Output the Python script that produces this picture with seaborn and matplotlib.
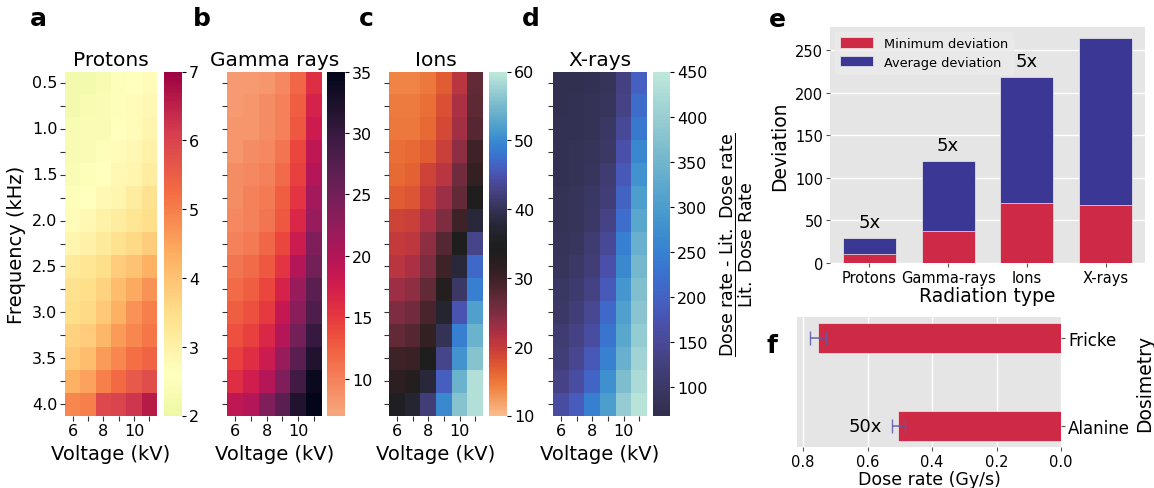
import numpy as np
import pandas as pd
import matplotlib
matplotlib.use("Agg")
import matplotlib.pyplot as plt
import seaborn as sns


# ==========================================
# Data
# ==========================================

frequencies = [0.5, 0.75, 1.0, 1.25, 1.5, 1.75, 2.0, 2.25,
               2.5, 2.75, 3.0, 3.25, 3.5, 3.75, 4.0]
voltages = [6, 7, 8, 9, 10, 11]

protons = [
    [2.2, 2.2, 2.3, 2.5, 2.6, 2.7],
    [2.2, 2.3, 2.4, 2.5, 2.7, 2.8],
    [2.3, 2.4, 2.4, 2.6, 2.7, 2.9],
    [2.3, 2.4, 2.5, 2.7, 2.8, 3.0],
    [2.4, 2.5, 2.6, 2.8, 2.9, 3.1],
    [2.5, 2.6, 2.8, 2.9, 3.1, 3.4],
    [2.7, 2.8, 3.0, 3.1, 3.3, 3.5],
    [2.9, 3.0, 3.2, 3.4, 3.6, 3.8],
    [3.2, 3.3, 3.5, 3.8, 4.0, 4.3],
    [3.4, 3.5, 3.7, 4.1, 4.4, 4.7],
    [3.5, 3.6, 3.9, 4.3, 4.7, 5.0],
    [3.7, 3.8, 4.2, 4.6, 4.9, 5.1],
    [3.9, 4.1, 4.6, 4.9, 5.2, 5.4],
    [4.3, 4.5, 5.0, 5.3, 5.6, 5.8],
    [4.9, 5.0, 5.9, 6.0, 6.2, 6.6],
]

gamma_rays = [
    [8.0, 8.0, 8.5, 9.5, 12.0, 16.0],
    [8.0, 8.5, 9.0, 10.0, 12.5, 17.0],
    [8.5, 8.5, 9.0, 10.0, 13.0, 18.0],
    [8.5, 9.0, 9.5, 11.0, 14.0, 19.0],
    [9.0, 9.5, 10.0, 11.5, 14.5, 20.0],
    [9.0, 10.0, 10.5, 12.5, 15.5, 21.0],
    [9.5, 10.0, 11.0, 13.0, 16.5, 22.0],
    [10.0, 10.5, 12.0, 14.0, 18.0, 24.0],
    [11.0, 11.5, 13.0, 15.5, 20.0, 25.0],
    [11.5, 12.5, 14.0, 17.0, 22.0, 27.0],
    [12.5, 13.5, 15.0, 18.5, 23.0, 28.0],
    [13.5, 14.5, 16.5, 20.0, 25.0, 30.0],
    [14.5, 16.0, 18.0, 22.0, 27.0, 32.0],
    [16.0, 17.5, 20.0, 24.0, 29.0, 34.0],
    [19.0, 20.0, 24.0, 27.0, 32.0, 35.0],
]

ions = [
    [14.0, 14.0, 15.0, 17.0, 21.0, 27.0],
    [14.5, 14.5, 15.5, 18.0, 22.0, 27.5],
    [15.0, 15.0, 16.0, 18.5, 22.5, 28.0],
    [15.5, 16.0, 17.0, 19.5, 24.0, 30.0],
    [16.0, 16.5, 19.0, 21.0, 26.0, 31.0],
    [17.0, 17.5, 20.0, 23.0, 27.0, 34.0],
    [19.0, 19.5, 22.0, 25.0, 30.0, 38.0],
    [20.0, 20.5, 24.0, 28.0, 34.0, 43.0],
    [21.0, 22.0, 25.0, 30.0, 38.0, 47.0],
    [23.0, 24.0, 27.0, 33.0, 41.0, 49.0],
    [25.0, 26.0, 29.0, 37.0, 45.0, 52.0],
    [27.0, 28.0, 31.0, 40.0, 49.0, 54.0],
    [30.0, 30.5, 34.0, 43.0, 51.0, 56.0],
    [32.0, 33.0, 38.0, 46.0, 54.0, 59.0],
    [35.0, 37.0, 42.0, 50.0, 56.0, 59.0],
]

x_rays = [
    [75, 75, 78, 85, 125, 195],
    [75, 76, 80, 90, 135, 215],
    [76, 78, 82, 95, 150, 235],
    [77, 80, 85, 100, 165, 260],
    [78, 82, 90, 110, 180, 280],
    [80, 84, 95, 120, 200, 300],
    [82, 87, 100, 135, 220, 320],
    [85, 92, 110, 150, 245, 340],
    [90, 100, 120, 165, 265, 355],
    [95, 108, 130, 185, 285, 370],
    [100, 118, 145, 210, 305, 380],
    [110, 128, 160, 230, 320, 395],
    [120, 142, 180, 250, 340, 410],
    [135, 160, 205, 275, 365, 425],
    [160, 190, 245, 300, 395, 440],
]

radiation_types = ["Protons", "Gamma-rays", "Ions", "X-rays"]
min_deviation = [10, 37, 71, 68]
avg_deviation = [29, 120, 218, 264]
factor_labels = ["5x", "5x", "5x", ""]

dosimetry = ["Fricke", "Alanine"]
dose_rate = [0.755, 0.505]
dose_err = [0.025, 0.02]

RED = "#cf2a45"
BLUE = "#3b3795"
GRAY = "#e5e5e5"


# ==========================================
# Figure
# ==========================================

fig = plt.figure(figsize=(11.54, 4.89), dpi=100)

W, H = 1154, 489


def box(x0, y0, x1, y1):
    # pixel box -> figure coords
    return [x0 / W, 1 - y1 / H, (x1 - x0) / W, (y1 - y0) / H]


heatmaps = [
    ("Protons", protons, "Spectral_r", 2, 7, 2.6, [2, 3, 4, 5, 6, 7],
     (65, 157), (164, 182)),
    ("Gamma rays", gamma_rays, "rocket_r", 7, 35, 18, [10, 15, 20, 25, 30, 35],
     (227, 322), (327, 345)),
    ("Ions", ions, "icefire_r", 10, 60, 34, [10, 20, 30, 40, 50, 60],
     (389, 483), (489, 507)),
    ("X-rays", x_rays, "icefire_r", 68, 450, -30,
     [100, 150, 200, 250, 300, 350, 400, 450],
     (553, 647), (653, 670)),
]

top, bottom = 72.5, 416.5

for i, (title, values, cmap, vmin, vmax, center, cticks, hx, cx) in enumerate(heatmaps):

    ax = fig.add_axes(box(hx[0], top, hx[1], bottom))
    cax = fig.add_axes(box(cx[0], top, cx[1], bottom))

    df = pd.DataFrame(values, index=frequencies, columns=voltages)

    sns.heatmap(
        df,
        ax=ax,
        cbar_ax=cax,
        cmap=cmap,
        vmin=vmin,
        vmax=vmax,
        center=center,
        cbar_kws={"ticks": cticks},
    )

    ax.set_title(title, fontsize=14.5, pad=5)

    ax.set_yticks(np.arange(len(frequencies)) + 0.5)
    if i == 0:
        ax.set_yticklabels(
            [f"{f:.1f}" if j % 2 == 0 else "" for j, f in enumerate(frequencies)],
            rotation=0,
            fontsize=11.5,
        )
        ax.set_ylabel("Frequency (kHz)", fontsize=14)
    else:
        ax.set_yticklabels([""] * len(frequencies))
        ax.set_ylabel("")

    ax.set_xticks(np.arange(len(voltages)) + 0.5)
    ax.set_xticklabels(
        [str(v) if j % 2 == 0 else "" for j, v in enumerate(voltages)],
        rotation=0,
        fontsize=11.5,
    )
    ax.set_xlabel("Voltage (kV)", fontsize=14)
    ax.tick_params(length=3.5, width=0.8, color="#333333", pad=2)

    cax.tick_params(labelsize=11.5, length=3, pad=2)


fig.text(
    736 / W, 0.5,
    "$\\dfrac{\\mathrm{Dose\\ rate\\ \u2010\\ Lit.\\ Dose\\ rate}}{\\mathrm{Lit.\\ Dose\\ Rate}}$",
    rotation=90, ha="center", va="center", fontsize=12.5,
)


# ==========================================
# e : Deviation bars
# ==========================================

axe = fig.add_axes(box(830, 28, 1145, 264))
axe.set_facecolor(GRAY)
axe.set_axisbelow(True)
axe.grid(True, color="white", linewidth=1)

sns.barplot(
    x=radiation_types,
    y=avg_deviation,
    color=BLUE,
    width=0.67,
    saturation=1,
    edgecolor="#eeeeee",
    linewidth=0.5,
    label="Average deviation",
    ax=axe,
)

sns.barplot(
    x=radiation_types,
    y=min_deviation,
    color=RED,
    width=0.67,
    saturation=1,
    edgecolor="#eeeeee",
    linewidth=0.5,
    label="Minimum deviation",
    ax=axe,
)

for k, (total, lab) in enumerate(zip(avg_deviation, factor_labels)):
    if lab:
        axe.text(k, total + 8, lab, ha="center", va="bottom", fontsize=13)

axe.set_ylim(0, 277)
axe.set_xlim(-0.5, 3.5)
axe.set_yticks([0, 50, 100, 150, 200, 250])
axe.set_xlabel("Radiation type", fontsize=13.5, labelpad=1)
axe.set_ylabel("Deviation", fontsize=13.5)
axe.tick_params(labelsize=10.5, length=3, color="#555555", pad=2)
for s in axe.spines.values():
    s.set_visible(False)

handles, labels = axe.get_legend_handles_labels()
axe.legend(
    handles[::-1],
    labels[::-1],
    loc="upper left",
    fontsize=9.3,
    handlelength=2.6,
    handleheight=0.9,
    labelspacing=0.45,
    frameon=True,
    facecolor="#ebebeb",
    edgecolor="#ebebeb",
    borderaxespad=0.35,
)


# ==========================================
# f : Dose rate
# ==========================================

axf = fig.add_axes(box(797, 318, 1061, 448))
axf.set_facecolor(GRAY)
axf.set_axisbelow(True)
axf.grid(True, axis="x", color="white", linewidth=1)

sns.barplot(
    x=dose_rate,
    y=dosimetry,
    orient="h",
    color=RED,
    width=0.35,
    saturation=1,
    edgecolor="#eeeeee",
    linewidth=0.5,
    ax=axf,
)

axf.errorbar(
    dose_rate,
    np.arange(len(dosimetry)),
    xerr=dose_err,
    fmt="none",
    ecolor="#5b5bb0",
    elinewidth=1.2,
    capsize=5,
    alpha=0.85,
)

axf.text(0.555, 1, "50x", ha="right", va="center", fontsize=13)

axf.set_xlim(0.819, 0)
axf.set_ylim(1.24, -0.24)
axf.set_xticks([0.0, 0.2, 0.4, 0.6, 0.8])
axf.yaxis.tick_right()
axf.yaxis.set_label_position("right")
axf.set_xlabel("Dose rate (Gy/s)", fontsize=12.5, labelpad=1)
axf.set_ylabel("Dosimetry", fontsize=13.5)
axf.tick_params(axis="x", labelsize=10.5, length=3, color="#555555", pad=2)
axf.tick_params(axis="y", labelsize=12, length=3, color="#555555", pad=2)
for s in axf.spines.values():
    s.set_visible(False)


# ==========================================
# Panel letters
# ==========================================

for letter, px, py in [("a", 38, 19), ("b", 202, 19), ("c", 366, 19),
                       ("d", 531, 19), ("e", 777, 20), ("f", 772, 346)]:
    fig.text(px / W, 1 - py / H, letter, fontsize=18, fontweight="bold",
             ha="center", va="center")


fig.savefig("out.png", dpi=100)
